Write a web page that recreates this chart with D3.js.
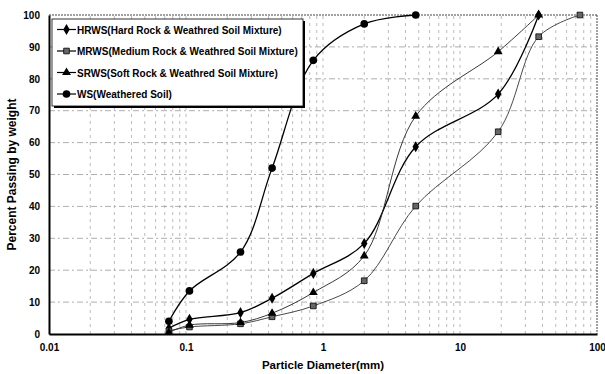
<!DOCTYPE html>
<html>
<head>
<meta charset="utf-8">
<script src="https://cdn.jsdelivr.net/npm/d3@7"></script>
<style>
  body { margin: 0; background: #fff; }
  text { font-family: "Liberation Sans", Arial, sans-serif; font-weight: bold; }
</style>
</head>
<body>
<div id="chart"></div>
<script>
// sieve sizes (mm) and percent passing
const sizes = [0.075, 0.106, 0.25, 0.425, 0.85, 2, 4.75, 19, 37.5, 75];
const hrws = [1.8, 4.6, 6.7, 11.2, 19, 28.4, 58.7, 75.2, 100];
const mrws = [1, 2.2, 3.2, 5.4, 8.8, 16.7, 40.1, 63.4, 93.2, 100];
const srws = [0.5, 2.8, 3.6, 6.5, 13, 24.5, 68.3, 88.5, 100];
const ws = [4, 13.5, 25.7, 52, 85.8, 97.2, 100];
const seriesNames = [
  "HRWS(Hard Rock & Weathred Soil Mixture)",
  "MRWS(Medium Rock & Weathred Soil Mixture)",
  "SRWS(Soft Rock & Weathred Soil Mixture)",
  "WS(Weathered Soil)"
];
const xTicks = [0.01, 0.1, 1, 10, 100];
const yTicks = [0, 10, 20, 30, 40, 50, 60, 70, 80, 90, 100];

const width = 605, height = 374;
const margin = { left: 49, right: 8, top: 15, bottom: 40 };

const svg = d3.select("#chart").append("svg")
    .attr("width", width)
    .attr("height", height);

const x = d3.scaleLog().domain([0.01, 100]).range([margin.left, width - margin.right]);
const y = d3.scaleLinear().domain([0, 100]).range([height - margin.bottom, margin.top]);

// grid
const minors = [];
for (let p = -2; p < 2; p++) {
    for (let m = 2; m <= 9; m++) minors.push(m * Math.pow(10, p));
}
[0.1, 1, 10].forEach(v => minors.push(v));

svg.append("g").selectAll("line")
    .data(minors)
    .join("line")
    .attr("x1", d => x(d)).attr("x2", d => x(d))
    .attr("y1", y(0)).attr("y2", y(100))
    .attr("stroke", "#aaa")
    .attr("stroke-width", 0.8)
    .attr("stroke-dasharray", "3,4");

svg.append("g").selectAll("line")
    .data(yTicks.slice(1, -1))
    .join("line")
    .attr("x1", x(0.01)).attr("x2", x(100))
    .attr("y1", d => y(d)).attr("y2", d => y(d))
    .attr("stroke", "#999")
    .attr("stroke-width", 0.8)
    .attr("stroke-dasharray", "6,3,2,3");

// frame
svg.append("line")
    .attr("x1", x(0.01)).attr("x2", x(100))
    .attr("y1", y(100)).attr("y2", y(100))
    .attr("stroke", "#444").attr("stroke-dasharray", "2,1");
svg.append("line")
    .attr("x1", x(100)).attr("x2", x(100))
    .attr("y1", y(100)).attr("y2", y(0))
    .attr("stroke", "#444").attr("stroke-dasharray", "2,1");

// axes
svg.append("g")
    .attr("transform", `translate(0,${y(0)})`)
    .call(d3.axisBottom(x).tickValues(xTicks).tickFormat(d => String(d)).tickSize(0).tickPadding(10))
    .call(g => g.select(".domain").attr("stroke", "#000").attr("stroke-width", 2))
    .call(g => g.selectAll("text").attr("font-size", 10).attr("font-weight", "bold").attr("fill", "#000")
        .attr("font-family", "Liberation Sans, Arial, sans-serif"));

svg.append("g")
    .attr("transform", `translate(${x(0.01)},0)`)
    .call(d3.axisLeft(y).tickValues(yTicks).tickSize(0).tickPadding(9))
    .call(g => g.select(".domain").attr("stroke", "#000").attr("stroke-width", 2))
    .call(g => g.selectAll("text").attr("font-size", 10).attr("font-weight", "bold").attr("fill", "#000")
        .attr("font-family", "Liberation Sans, Arial, sans-serif"));

svg.append("text")
    .attr("x", (x(0.01) + x(100)) / 2)
    .attr("y", 369)
    .attr("text-anchor", "middle")
    .attr("font-size", 11.5)
    .text("Particle Diameter(mm)");

svg.append("text")
    .attr("transform", `translate(16,${(y(0) + y(100)) / 2}) rotate(-90)`)
    .attr("text-anchor", "middle")
    .attr("font-size", 12)
    .text("Percent Passing by weight");

// series
const series = [
  { name: seriesNames[0], values: hrws, shape: d3.symbolDiamond, size: 36, color: "#000", w: 1.3 },
  { name: seriesNames[1], values: mrws, shape: d3.symbolSquare, size: 32, color: "#333", w: 0.9 },
  { name: seriesNames[2], values: srws, shape: d3.symbolTriangle, size: 34, color: "#222", w: 0.9 },
  { name: seriesNames[3], values: ws, shape: d3.symbolCircle, size: 46, color: "#000", w: 1.3 }
];

const line = d3.line()
    .x(d => x(d[0]))
    .y(d => y(d[1]))
    .curve(d3.curveCatmullRom.alpha(0.5));

series.forEach(s => {
    const pts = s.values.map((v, i) => [sizes[i], v]);
    svg.append("path")
        .datum(pts)
        .attr("fill", "none")
        .attr("stroke", s.color)
        .attr("stroke-width", s.w)
        .attr("d", line);
    svg.append("g").selectAll("path")
        .data(pts)
        .join("path")
        .attr("transform", d => `translate(${x(d[0])},${y(d[1])})`)
        .attr("d", d3.symbol().type(s.shape).size(s.size))
        .attr("fill", s.shape === d3.symbolSquare ? "#666" : "#000")
        .attr("stroke", "#000")
        .attr("stroke-width", s.shape === d3.symbolSquare ? 0.8 : 0);
});

// legend
const lg = svg.append("g").attr("transform", "translate(52,19)");
lg.append("rect")
    .attr("x", 2).attr("y", 2).attr("width", 251).attr("height", 87)
    .attr("fill", "#000");
lg.append("rect")
    .attr("width", 251).attr("height", 87)
    .attr("fill", "#fff").attr("stroke", "#000").attr("stroke-width", 0.8);

series.forEach((s, i) => {
    const row = lg.append("g").attr("transform", `translate(0,${10.5 + i * 21.5})`);
    row.append("line")
        .attr("x1", 5).attr("x2", 24).attr("y1", 0).attr("y2", 0)
        .attr("stroke", "#000").attr("stroke-width", 1.2);
    row.append("path")
        .attr("transform", "translate(14.5,0)")
        .attr("d", d3.symbol().type(s.shape).size(s.size))
        .attr("fill", s.shape === d3.symbolSquare ? "#666" : "#000")
        .attr("stroke", "#000")
        .attr("stroke-width", s.shape === d3.symbolSquare ? 0.8 : 0);
    row.append("text")
        .attr("x", 25).attr("y", 4)
        .attr("font-size", 10)
        .text(s.name);
});
</script>
</body>
</html>
